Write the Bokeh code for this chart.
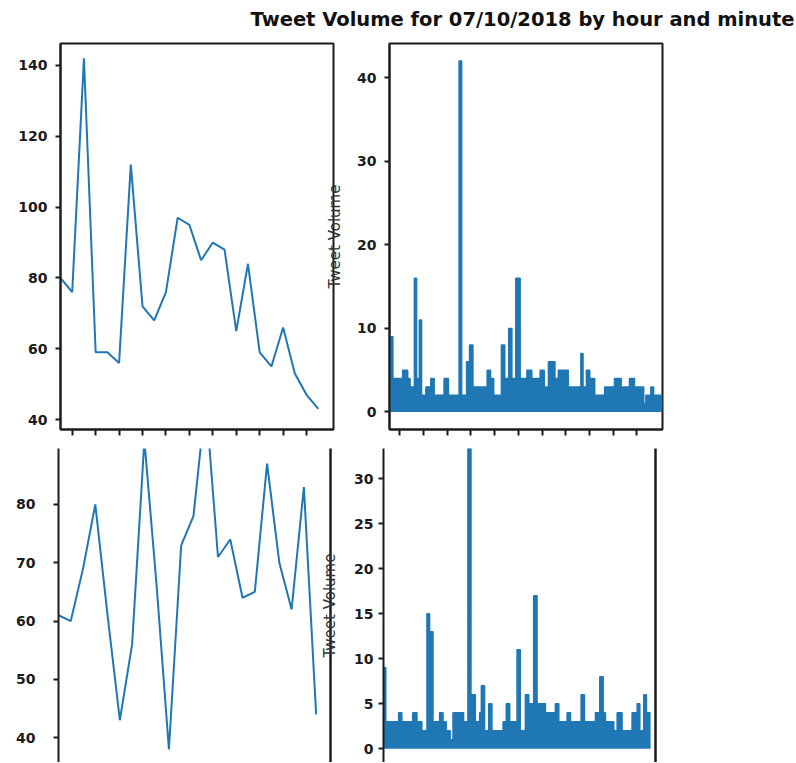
from bokeh.plotting import figure
from bokeh.layouts import column, row
from bokeh.models import FixedTicker, LinearAxis, Label, Range1d, CustomLabelingPolicy
from bokeh.embed import file_html
from bokeh.resources import INLINE

# ---------------- data ----------------
# hourly volume, first day (top-left)
hours_a = [0, 1, 2, 3, 4, 5, 6, 7, 8, 9, 10, 11, 12, 13, 14, 15, 16, 17, 18, 19, 20, 21, 22]
hourly_volume_a = [80, 76, 142, 59, 59, 56, 112, 72, 68, 76, 97, 95, 85, 90, 88, 65, 84, 59, 55, 66, 53, 47, 43]

# hourly volume, second panel (bottom-left)
hours_b = [0, 1, 2, 3, 4, 5, 6, 7, 8, 9, 10, 11, 12, 13, 14, 15, 16, 17, 18, 19, 20, 21]
hourly_volume_b = [61, 60, 69, 80, 61, 43, 56, 91, 66, 38, 73, 78, 98, 71, 74, 64, 65, 87, 70, 62, 83, 44]

# minute-level volume (top-right): start minute of each run and its peak volume
minute_a = [8, 25, 75, 100, 112, 134, 145, 149, 159, 170, 192, 217, 234, 284, 306, 360, 373, 398, 413, 430,
            502, 519, 535, 574, 591, 611, 627, 647, 669, 703, 728, 770, 791, 812, 845, 862, 912, 976, 987, 1004,
            1021, 1046, 1096, 1146, 1180, 1222, 1247, 1294, 1305, 1330, 1344, 1389]
minute_volume_a = [9, 4, 5, 4, 3, 16, 4, 4, 11, 2, 3, 4, 2, 4, 2, 42, 2, 6, 8, 3,
                   5, 4, 2, 8, 4, 10, 4, 16, 4, 5, 4, 5, 3, 6, 4, 5, 3, 7, 3, 5,
                   4, 2, 3, 4, 3, 4, 3, 1, 2, 3, 2, 2]

# minute-level volume (bottom-right)
minute_b = [0, 12, 80, 97, 155, 177, 203, 230, 244, 262, 297, 315, 332, 353, 368, 424, 447, 463, 486, 509,
            518, 535, 557, 574, 601, 633, 650, 668, 707, 724, 751, 769, 795, 813, 857, 910, 928, 972, 990, 1046,
            1064, 1122, 1145, 1163, 1175, 1219, 1237, 1263, 1316, 1343, 1357, 1378, 1392, 1414]
minute_volume_b = [9, 3, 4, 3, 4, 3, 2, 15, 13, 3, 4, 3, 2, 1, 4, 3, 36, 6, 3, 4,
                   7, 2, 5, 2, 2, 3, 5, 3, 11, 2, 6, 5, 17, 5, 4, 5, 3, 4, 3, 6,
                   3, 4, 8, 4, 3, 2, 4, 2, 4, 5, 2, 6, 4, 4]

yticks_a = [40, 60, 80, 100, 120, 140]
yticks_b = [40, 50, 60, 70, 80]
yticks_c = [0, 10, 20, 30, 40]
yticks_d = [0, 5, 10, 15, 20, 25, 30]
xticks_hours = [1, 3, 5, 7, 9, 11, 13, 15, 17, 19, 21]
xticks_minutes = [60, 180, 300, 420, 540, 660, 780, 900, 1020, 1140, 1260]

title_text = "Tweet Volume for 07/10/2018 by hour and minute"
ylabel_text = "Tweet Volume"

BLUE = "#1f77b4"
INK = "#1c1c1c"
FONT = "DejaVu Sans"

HIDE_ALL_LABELS = CustomLabelingPolicy(code="""
    for (const i of indices) { indices.unset(i) }
    return indices
""")


def base_fig(width, height, xr, yr, left, right, top, bottom, with_x=True):
    p = figure(width=width, height=height, x_range=xr, y_range=yr,
               toolbar_location=None, output_backend="svg",
               x_axis_location="below" if with_x else None,
               min_border_left=left, min_border_right=right,
               min_border_top=top, min_border_bottom=bottom)
    p.xgrid.visible = False
    p.ygrid.visible = False
    p.background_fill_color = "white"
    p.border_fill_color = "white"
    return p


def style_axis(ax, ticks, standoff):
    ax.ticker = FixedTicker(ticks=ticks)
    ax.major_tick_out = 5
    ax.major_tick_in = 0
    ax.minor_tick_out = 0
    ax.minor_tick_in = 0
    ax.major_tick_line_width = 2
    ax.major_tick_line_color = INK
    ax.axis_line_width = 2
    ax.axis_line_color = INK
    ax.major_label_text_font = FONT
    ax.major_label_text_font_style = "bold"
    ax.major_label_text_font_size = "14px"
    ax.major_label_text_color = INK
    ax.major_label_standoff = standoff


def style_ylabel(ax, standoff):
    ax.axis_label = ylabel_text
    ax.axis_label_text_font = FONT
    ax.axis_label_text_font_style = "normal"
    ax.axis_label_text_font_size = "15px"
    ax.axis_label_text_color = "#333333"
    ax.axis_label_standoff = standoff


def style_xticks_only(ax, ticks):
    ax.ticker = FixedTicker(ticks=ticks)
    ax.major_tick_out = 6
    ax.major_tick_in = 0
    ax.minor_tick_out = 0
    ax.minor_tick_in = 0
    ax.major_tick_line_width = 2
    ax.major_tick_line_color = INK
    ax.axis_line_color = INK
    ax.axis_line_width = 2
    ax.major_label_policy = HIDE_ALL_LABELS
    ax.major_label_standoff = 0


def right_spine(p):
    ax = LinearAxis(ticker=FixedTicker(ticks=[]))
    ax.axis_line_width = 2.5
    ax.axis_line_color = INK
    ax.major_tick_out = 0
    ax.major_tick_in = 0
    ax.minor_tick_out = 0
    ax.minor_tick_in = 0
    ax.major_label_standoff = 0
    p.add_layout(ax, "right")


# ---------------- title strip ----------------
pt = figure(width=796, height=41, toolbar_location=None, output_backend="svg",
            x_range=Range1d(0, 1), y_range=Range1d(0, 1),
            x_axis_location=None, y_axis_location=None, min_border=0)
pt.outline_line_color = None
pt.xgrid.visible = False
pt.ygrid.visible = False
pt.add_layout(Label(x=522, y=22, x_units="screen", y_units="screen", text=title_text,
                    text_align="center", text_baseline="middle", text_font=FONT,
                    text_font_style="bold", text_font_size="19.5px", text_color="#111111"))

# ---------------- top-left: hourly ----------------
p1 = base_fig(335, 405, Range1d(0, 23.3), Range1d(37.2, 146.2), 60, 2, 2, 16)
p1.line(hours_a, hourly_volume_a, line_color=BLUE, line_width=2)
p1.outline_line_color = INK
p1.outline_line_width = 2
style_axis(p1.yaxis[0], yticks_a, 8)
style_xticks_only(p1.xaxis[0], xticks_hours)

# ---------------- top-right: minute (its label overlaps the left panel) ----------------
OV_T = 12
p2 = base_fig(329 + OV_T, 405, Range1d(8, 1389), Range1d(-2.1, 44.1), 52 + OV_T, 2, 2, 16)
p2.border_fill_alpha = 0
p2.styles = {"margin-left": f"-{OV_T}px"}
p2.varea_step(x=minute_a, y1=0, y2=minute_volume_a, step_mode="after", fill_color=BLUE)
p2.step(minute_a, minute_volume_a, mode="after", line_color=BLUE, line_width=1.5)
p2.outline_line_color = INK
p2.outline_line_width = 2
style_axis(p2.yaxis[0], yticks_c, 8)
style_ylabel(p2.yaxis[0], 10)
style_xticks_only(p2.xaxis[0], xticks_minutes)

# ---------------- bottom-left: hourly ----------------
p3 = base_fig(332, 316, Range1d(0, 22.17), Range1d(35.75, 89.6), 58, 2, 2, 0, with_x=False)
p3.line(hours_b, hourly_volume_b, line_color=BLUE, line_width=2)
p3.outline_line_color = None
style_axis(p3.yaxis[0], yticks_b, 18)
right_spine(p3)

# ---------------- bottom-right: minute (its label overlaps the left panel) ----------------
OV_B = 14
p4 = base_fig(325 + OV_B, 316, Range1d(0, 1440), Range1d(-1.52, 33.37), 51 + OV_B, 2, 2, 0, with_x=False)
p4.border_fill_alpha = 0
p4.styles = {"margin-left": f"-{OV_B}px"}
p4.varea_step(x=minute_b, y1=0, y2=minute_volume_b, step_mode="after", fill_color=BLUE)
p4.step(minute_b, minute_volume_b, mode="after", line_color=BLUE, line_width=1.5)
p4.outline_line_color = None
style_axis(p4.yaxis[0], yticks_d, 5)
style_ylabel(p4.yaxis[0], 12)
right_spine(p4)

layout = column(pt, row(p1, p2), row(p3, p4))

open("out.html", "w").write(file_html(layout, INLINE))
